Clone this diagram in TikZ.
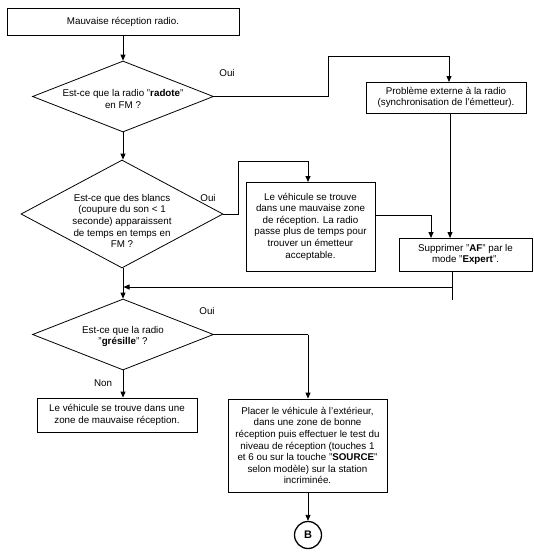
\documentclass[tikz,border=0pt]{standalone}
\usepackage{fontspec}
\setmainfont{Liberation Sans}
\usetikzlibrary{shapes.geometric,arrows.meta}
\begin{document}
\begin{tikzpicture}[x=1pt,y=-1pt,
  every node/.style={font=\fontsize{9.8}{11.6}\selectfont, text=black},
  box/.style={draw, line width=0.8pt, inner sep=0pt, align=center},
  dia/.style={draw, diamond, line width=0.8pt, inner sep=0pt},
  txt/.style={align=center, inner sep=0pt},
  conn/.style={line width=0.8pt},
  arr/.style={line width=0.8pt, -{Triangle[length=6pt,width=5pt]}}]
\useasboundingbox (0,0) rectangle (533,557);
% boxes
\node[box, minimum width=232pt, minimum height=27pt] (b1) at (123,21.5) {Mauvaise réception radio.};
\node[box, minimum width=160pt, minimum height=31pt] (b2) at (446,97.5) {Problème externe à la radio\\(synchronisation de l'émetteur).};
\node[box, minimum width=129pt, minimum height=89pt] (b3) at (310.5,226.5) {Le véhicule se trouve\\dans une mauvaise zone\\de réception. La radio\\passe plus de temps pour\\trouver un émetteur\\acceptable.};
\node[box, minimum width=133pt, minimum height=33pt] (b4) at (465.5,254.5) {Supprimer "\textbf{AF}" par le\\mode "\textbf{Expert}".};
\node[box, minimum width=160pt, minimum height=34pt] (b5) at (117,415) {Le véhicule se trouve dans une\\zone de mauvaise réception.};
\node[box, minimum width=159pt, minimum height=93pt] (b6) at (307.5,445.5) {Placer le véhicule à l'extérieur,\\dans une zone de bonne\\réception puis effectuer le test du\\niveau de réception (touches 1\\et 6 ou sur la touche "\textbf{SOURCE}"\\selon modèle) sur la station\\incriminée.};
\node[draw, circle, line width=1.3pt, minimum size=27pt, inner sep=0pt, font=\fontsize{11}{13}\selectfont\bfseries] (cB) at (308,535) {B};
% diamonds
\node[dia, minimum width=181pt, minimum height=71pt] (d1) at (123,96.5) {};
\node[txt] (t1) at (123,99) {Est-ce que la radio "\textbf{radote}"\\en FM ?};
\node[dia, minimum width=202pt, minimum height=108pt] (d2) at (122,214) {};
\node[txt] (t2) at (122,221) {Est-ce que des blancs\\(coupure du son < 1\\seconde) apparaissent\\de temps en temps en\\FM ?};
\node[dia, minimum width=181pt, minimum height=71pt] (d3) at (123,334.5) {};
\node[txt] (t3) at (123,336.5) {Est-ce que la radio\\"\textbf{grésille}" ?};
% labels
\node[txt] (o1) at (227,73) {Oui};
\node[txt] (o2) at (208,198) {Oui};
\node[txt] (o3) at (207,311) {Oui};
\node[txt] (n3) at (103,383) {Non};
% helper coordinates
\coordinate (c1a) at (328,96.5);
\coordinate (c1b) at (328,56);
\coordinate (c1c) at (449,56);
\coordinate (c1d) at (449,82);
\coordinate (c2a) at (238,214);
\coordinate (c2b) at (238,161);
\coordinate (c2c) at (308,161);
\coordinate (c2d) at (308,182);
\coordinate (c3a) at (431,215);
\coordinate (c3b) at (431,238);
\coordinate (c4a) at (450,113);
\coordinate (c4b) at (450,238);
\coordinate (c5a) at (452,271);
\coordinate (c5b) at (452,300);
\coordinate (c5c) at (452,287);
\coordinate (c5d) at (123.5,287);
\coordinate (c6a) at (308,334.5);
% connectors
\draw[arr] (b1.south) -- (d1.north);
\draw[arr] (d1.south) -- (d2.north -| d1.south);
\draw[arr] (d2.south -| d1.south) -- (d3.north);
\draw[arr] (d3.south) -- (b5.north -| d3.south);
\draw[conn] (d1.east) -- (c1a) -- (c1b) -- (c1c);
\draw[arr] (c1c) -- (c1d);
\draw[conn] (d2.east) -- (c2a) -- (c2b) -- (c2c);
\draw[arr] (c2c) -- (c2d);
\draw[conn] (b3.east |- c3a) -- (c3a);
\draw[arr] (c3a) -- (c3b);
\draw[arr] (c4a) -- (c4b);
\draw[conn] (c5a) -- (c5b);
\draw[arr] (c5c) -- (c5d);
\draw[conn] (d3.east) -- (c6a);
\draw[arr] (c6a) -- (b6.north -| c6a);
\draw[arr] (b6.south -| cB.north) -- (cB.north);
\end{tikzpicture}
\end{document}
